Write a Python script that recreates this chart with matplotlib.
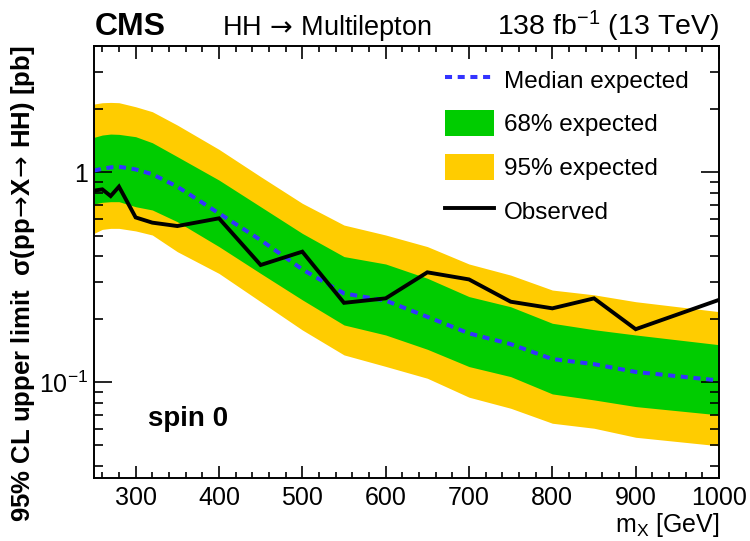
import matplotlib
matplotlib.use("Agg")
import matplotlib.pyplot as plt
from matplotlib.patches import Patch
from matplotlib.lines import Line2D
from matplotlib.ticker import FixedLocator, NullFormatter, MultipleLocator

# ─── Data ────────────────────────────────────────────────────────────────────
mass = [250, 260, 270, 280, 300, 320, 350, 400, 450, 500,
        550, 600, 650, 700, 750, 800, 850, 900, 1000]

median_exp = [1.02, 1.04, 1.056, 1.064, 1.033, 0.98, 0.855, 0.638, 0.476, 0.345,
              0.265, 0.245, 0.205, 0.171, 0.152, 0.129, 0.122, 0.112, 0.102]

band68_hi = [1.468, 1.506, 1.522, 1.517, 1.479, 1.384, 1.188, 0.919, 0.686, 0.512,
             0.397, 0.366, 0.313, 0.256, 0.229, 0.191, 0.178, 0.168, 0.151]
band68_lo = [0.707, 0.720, 0.725, 0.725, 0.686, 0.662, 0.582, 0.443, 0.330, 0.247,
             0.1875, 0.168, 0.1436, 0.1188, 0.1064, 0.088, 0.0824, 0.0766, 0.0699]

band95_hi = [2.115, 2.147, 2.154, 2.147, 2.054, 1.945, 1.680, 1.287, 0.954, 0.712,
             0.561, 0.503, 0.443, 0.366, 0.324, 0.275, 0.261, 0.242, 0.217]
band95_lo = [0.512, 0.535, 0.541, 0.541, 0.526, 0.503, 0.419, 0.330, 0.242, 0.1775,
             0.135, 0.119, 0.1045, 0.0849, 0.0752, 0.0638, 0.0604, 0.0547, 0.0498]

observed = [0.818, 0.83, 0.771, 0.855, 0.610, 0.576, 0.555, 0.604, 0.362, 0.419,
            0.239, 0.251, 0.334, 0.309, 0.242, 0.225, 0.251, 0.179, 0.247]

x_ticks = [300, 400, 500, 600, 700, 800, 900, 1000]
y_ticks = [0.1, 1.0]
y_tick_labels = ["$10^{-1}$", "1"]

# ─── Style ────────────────────────────────────────────────────────────────────
plt.rcParams["font.family"] = ["Liberation Sans", "DejaVu Sans"]
plt.rcParams["mathtext.fontset"] = "custom"
plt.rcParams["mathtext.rm"] = "Liberation Sans"
plt.rcParams["mathtext.it"] = "Liberation Sans"
plt.rcParams["mathtext.bf"] = "Liberation Sans:bold"
plt.rcParams["mathtext.sf"] = "DejaVu Sans"   # only used for the long arrow

YELLOW = "#FFCC00"
GREEN = "#00CC00"
BLUE = "#3333FF"
DASH = (0, (1.75, 1.4))
ARROW = "$\\!\\mathsf{\\rightarrow}\\!$"

fig = plt.figure(figsize=(7.5, 5.41), dpi=100)
ax = fig.add_axes([0.1253, 0.1165, 0.9587 - 0.1253, 0.915 - 0.1165])

ax.fill_between(mass, band95_lo, band95_hi, color=YELLOW, lw=0)
ax.fill_between(mass, band68_lo, band68_hi, color=GREEN, lw=0)
ax.plot(mass, median_exp, color=BLUE, lw=2.9, ls=DASH)
ax.plot(mass, observed, color="black", lw=2.8, solid_joinstyle="miter")

ax.set_yscale("log")
ax.set_xlim(250, 1000)
ax.set_ylim(0.035, 4.0)

# ticks: ROOT-like, inside on all four sides
ax.xaxis.set_major_locator(FixedLocator(x_ticks))
ax.xaxis.set_minor_locator(MultipleLocator(20))
ax.yaxis.set_major_locator(FixedLocator(y_ticks))
ax.set_yticklabels(y_tick_labels)
ax.yaxis.set_minor_locator(FixedLocator(
    [k * 10.0 ** e for e in (-2, -1, 0) for k in range(2, 10)]))
ax.yaxis.set_minor_formatter(NullFormatter())
ax.tick_params(which="both", direction="in", top=True, right=True, width=1.2,
               labelsize=18)
ax.tick_params(axis="x", which="major", length=9, pad=6)
ax.tick_params(axis="x", which="minor", length=4.5)
ax.tick_params(axis="y", which="major", length=13, pad=4)
ax.tick_params(axis="y", which="minor", length=6.5)
for s in ax.spines.values():
    s.set_linewidth(1.4)

ax.set_xlabel("m$_{\\mathrm{X}}$ [GeV]", fontsize=18, ha="right")
ax.xaxis.set_label_coords(1.0, -0.076)
ax.set_ylabel("95% CL upper limit  σ(pp" + ARROW + "X" + ARROW + " HH) [pb]",
              fontsize=18.5, fontweight="bold", ha="right")
ax.yaxis.set_label_coords(-0.091, 1.0)

# header
fig.text(0.127, 0.935, "CMS", fontsize=23, fontweight="bold", ha="left", va="baseline")
fig.text(0.296, 0.935, "HH " + ARROW + " Multilepton", fontsize=19.5,
         ha="left", va="baseline")
fig.text(0.9587, 0.935, "138 fb$^{-1}$ (13 TeV)", fontsize=20.5,
         ha="right", va="baseline")

ax.text(0.0864, 0.1366, "spin 0", transform=ax.transAxes, fontsize=20,
        fontweight="bold", ha="left", va="center")

handles = [
    Line2D([], [], color=BLUE, lw=2.9, ls=DASH),
    Patch(facecolor=GREEN, edgecolor="none"),
    Patch(facecolor=YELLOW, edgecolor="none"),
    Line2D([], [], color="black", lw=2.8),
]
labels = ["Median expected", "68% expected", "95% expected", "Observed"]
ax.legend(handles, labels, loc="upper left", bbox_to_anchor=(0.5616, 0.9525),
          frameon=False, fontsize=17.5, handlelength=2.0, handleheight=1.28,
          labelspacing=0.72, handletextpad=0.42, borderpad=0, borderaxespad=0)

fig.savefig("out.png", dpi=100)
